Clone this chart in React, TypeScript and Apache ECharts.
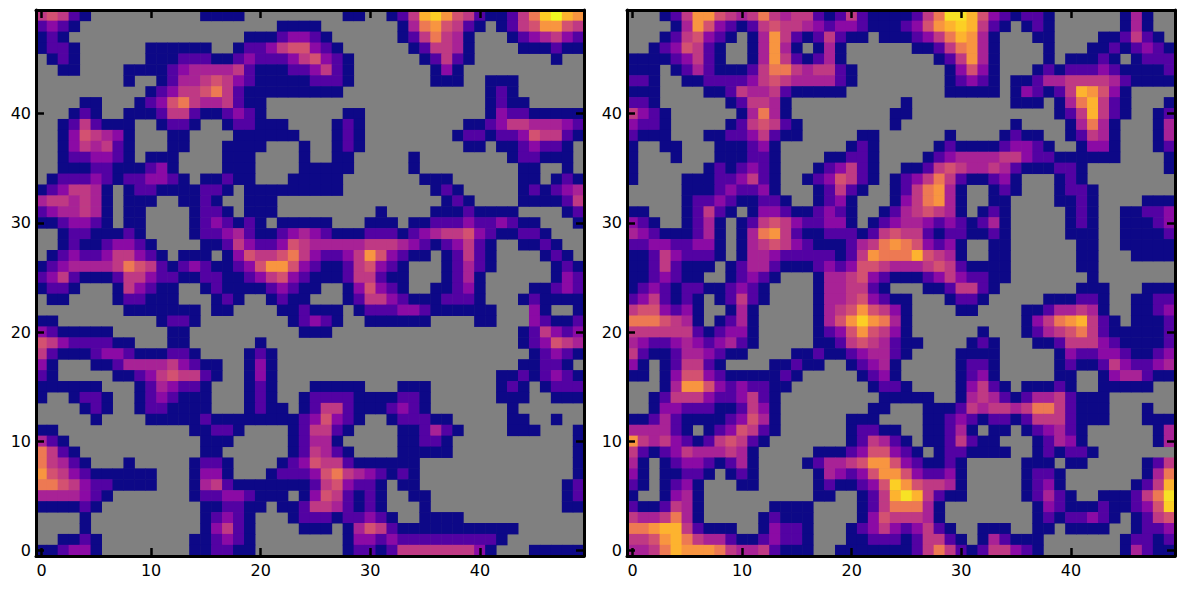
import React, { useEffect, useRef } from "react";
import * as echarts from "echarts";

// Binned colour levels: "." is an empty (grey) cell.
const levelChars = "0123456789ba";
const levelColors = ["#0d0887", "#5302a3", "#8b0aa5", "#a82296", "#bf3984", "#d35171", "#ed7953", "#f89540", "#fdb32f", "#fccf25", "#f7e225", "#f0f921"];
const ticks = Array.from({ length: 50 }, (_, i) => String(i));
const everyTen = (index: number) => index % 10 === 0;

// Rows from y=49 (top) to y=0 (bottom); spaces only separate groups of cells.
const leftRows = [
  "45410 .......... 0000 ...... ... 00 .. 0 1 4 8 9 7 5 4 1 00 1 4 6 9 a 8 7",
  "1210 .................. 000 0 ....... 0 3 6 7 5 4 1 0 . 0 1 4 5 7 7 5 4",
  "010 ................ 000 1 22 1 0 ...... 0 1 4 6 4 3 0 ... 0 1 2 3 4 2 1",
  "0110 ...... 000000 .. 0 11 2 4 55 2 1 0 ...... 0 1 44 3 0 .... 000 1 00",
  ".010 ...... 000 111 00 1 2 111 2 4 5 2 1 0 ...... 0 1 4 1 0 ....... 0 ..",
  "..00 .... 0000 1 2 3333 4 1 000 11 2 4 1 0 ....... 0 2 0 ...........",
  "........ 0 .. 0 1 33 4 5 4 2 1 00000 111 0 ....... 000 .. 000 ......",
  ".......... 0 1 2 44 5 6 4 1 000000 000 ............. 0 1 0 ......",
  ".... 00 ... 0 1 2 5 6 4 33 4 1 00 .... ................ 0 1 00 .....",
  "... 0 1 0 .. 000 1 44 1 00 1 2 1 0 .... ... 00 ........... 0 2 11 00000",
  ".. 0 1 4 1 000 .. 0 11 0 .. 0 11 000 .. .. 0 1 0 ......... 00 1 2 44 333 2 1",
  ".. 0 2 5 4 3 2 0 ... 00 .... 000000 . .. 0 1 0 ........ 0 11 0 11 2 5 44 1 0",
  ".. 0 2 4 3 4 1 0 ... 00 ... 0000 ... 0 .. 0 1 0 ......... 00 . 00 1 2 11 0 .",
  ".. 0 11 22 1 0 . 000 .... 000 .... 0 .. 00 ..... 0 ........ 0 11 000 .",
  ".. 000 11 000 1 2 0 .... 000 .... 0 0000 ..... 0 ......... 00 .. 0 .",
  ". 0 111 2 1 0 11 22 1 0 . 00 1 00 ... 00 000 ....... 000 ...... 00 . 0 1 0",
  "0 1 2 44 3 0 . 0 11 0000 11 0 . 000000 000 ........ 0 1 0 ..... 0 1 0 1 2 3",
  "3 44 3 4 3 0 . 000 .. 00 1 0 .. 000 ... ............ 0 1 0 .... 0000 1 4",
  "1 2 33 4 3 0 . 00 .... 0 11 0 . 000 ... ...... 0 .... 000 1 0000 .... 0 1",
  "00 1 22 1 0 . 00 .... 0 1 2 1 0 1 0 . 000 00 ... 000 . 00 111 2 11 2 1 00 ... 0",
  ".. 0 11 000 1 0 .... 0 11 2 3 1 00 1 2 3 2 1 000 111 0 1 2 3 44 5 2 1 00 11 0 ...",
  ".. 0 1 00 1 22 1 0 .... 00 1 4 2 11 2 5 4 33333 444 3 2 1 0 1 2 4 1 0 .. 00 1 0 ..",
  ". 0 1 2 11 2 44 2 1 0 . 000 . 0 2 5 44 5 6 4 2 11 2 4 7 5 2 1 00 . 0 1 4 1 0 .... 0 1 0 .",
  "0 1 2 3333 4 6 5 4 1 0 1 2 1 00 1 2 5 77 5 2 1 00 1 4 5 2 1 0 ... 0 1 3 1 0 ..... 0 1 0",
  "1 2 4 1 000 1 44 2 11 00 11 00 1 2 4 5 2 1 000 1 44 1 00 ... 0 1 3 0 ...... 0 2 1",
  "0 11 0 ... 0 4 2 1 00 .. 0 1 0000 1 2 1 0 0 .. 0 2 5 2 1 0 .. 00 1 2 0 .... 00 1 2 1",
  ". 00 .... 0 11 000 ... 0 1 0 .. 0 1 00 ... 0 1 44 2 1 000 111 0 ... 0 1 0000",
  "........ 0000000 . 00 .... 00 1 000 . 0 111 22 1 000000 ... 2 0 .. 0",
  "00 ......... 0 11 0 ........ 0 1 2 1 0 .. 000000 .... 00 ... 2 1 00 1",
  "2 1 00000 ..... 00 .......... 0 00 ................. 0 1 4 2 1 2",
  "5 4 2 1111 00 ... 00 ...... 0 .... ................... 0 1 2 5 4 3",
  "4 1 000 1 22 1 000 11 0 .... 0 1 0 ... .................... 0 1 2 1 0",
  "2 0 ... 00 1 3333 4 2 1 00 .. 0 2 0 ... ................... 00 11 0 .",
  "1 0 ..... 00 1 2 4 5 44 1 0 .. 0 2 0 ... ................. 00 1 0 1 2 1 0",
  "000000 ... 0 1 3 2 11 0 ... 0 1 0 ... 00000 ... 000 ...... 0 1 0 . 0 111",
  "0 .. 0 11 0 .. 0 1 2 1 000 ... 0 1 0 .. 0 1111 0000 11 0 ...... 000 .. 000",
  ".... 0 1 0 .. 0 11 0000 ... 0 1 00 . 0 1 44 1 000 1 2 1 0 ....... 0 ......",
  "..... 0 .... 00000 1 00000000 1 2 5 2 1 0 .. 0 111 00 ..... 00 .. 0 ..",
  "00 ............ 00 11 0 .... 0 1 44 1 0 .... 00 1 3 1 0 .... 000 ... 0",
  "3 1 0 ............ 000 ..... 0 1 33 0 ..... 00 11 0 ........... 0",
  "6 4 1 0 ........... 00 ...... 0 1 4 3 1 0 .... 00000 ........... 0",
  "6 4 3 1 0 ... 0 ..... 0 11 0 .... 0 1 2 5 44 1 000000 .............. 0",
  "7 5 4 2 1 000000 ... 0 22 0 ... 0 111 2 5 6 4 3 2 1 0 1 0 .............. 0",
  "66 5 4 2 11 0000 ... 0 3 4 1 0000000 1 4 5 2 11 0 . 00 ............. 0 1",
  "3333 2 1 0 ....... 0 11 22 1 000 . 0 2 5 4 1 0 1 0 .. 00 ............ 0 1",
  "0000 1 0 ......... 00 11 00 . 00 1 44 3 1 0 1 0 ... 0 ............ 00",
  ".... 0 .......... 0 1 2 1 0 ... 0 1 11 0 11 2 1 0 .. 0000 ...........",
  ".... 0 .......... 0 2 4 1 0 .... 0 00 . 0 3 5 4 1 00000000000 ......",
  ".. 00 1 0 ........ 00 1 2 1 0 ..... ... 0 22 1 2 111111111 0 .......",
  "00 1 22 0 ........ 00 11 00 ..... ... 0 11 0 1 4444444 2 0 ... 00000",
];

const rightRows = [
  "... 0 1 4 77 5 4 3 4 6 4 3 44 1 0 1 4 1 000 0 1 4 6 bb 8 5 2 1 0 11 0 ...... 0 3 0 ..",
  ".... 0 3 7 5 2 1 0 1 4 5 44 3 2 1 22 1 000 1 2 5 7 8 9 8 4 1 0 . 0 1 0 ...... 0 3 0 ..",
  "... 0 1 4 5 2 1 0 . 0 3 7 4 1 0 1 4 1 00 . 00 0 1 2 4 6 8 7 3 0 ... 00 .... 00 1 4 1 0 .",
  ".. 0 1 2 5 4 1 0 .. 0 3 7 3 0 . 0 3 0 ..... . 00 1 4 6 7 3 0 .... 0 ... 00 1 0 1 2 1 0",
  "0000 1 2 4 1 0 .. 0 3 7 4 1 0 1 3 0 ..... ... 0 1 4 7 3 0 .... 0 . 000 1 0 . 0 111",
  "000 . 0 1 3 1 000 1 4 66 4 3 44 1 0 .... .... 0 2 5 2 0 ... 0 1 0 111 2 1 0000 1",
  "11 0 .. 00 1111 2 4 5 4 3333 1 0 .... .... 0 1 2 1 0 . 00 1 33 4444 3 1 0000",
  "000 .... 00 1 4 33 4 1 00000 ..... .... 00000 . 0 2 1 0 1 4 8 7 5 2 0 ....",
  "11 0 ...... 0 1 44 3 0 .......... 0 ......... 000 . 0 3 6 8 4 1 0 ... 0",
  "4 2 1 0 ...... 0 3 6 3 0 ......... 00 ............. 0 1 4 8 4 1 0 .. 0 1",
  "2 11 0 ..... 0 1 4 5 4 1 0 ........ 0 .......... 0 .... 0 3 6 3 0 ... 0 3",
  "1 000 ... 00 11 2 4 1 00 ..... 00 .. .... 0 .... 0 1 00 .. 0 1 4 3 0 ... 0 3",
  "0 .. 00 ... 000 1 2 0 ...... 0 1 0 .. ... 0 1 0000 1 22 1 0 .. 0 22 0 ... 0 1",
  "0 ... 0 ... 000 11 0 .... 00 11 0 .. .. 0 1 2 3333 44 2 11 000000 .... 0",
  "0 ...... 0 1 0 1 2 1 0 ... 0 1 2 4 1 0 .. 00 1 4 5 4 33 4 3 1 000 11 0 ....... 0",
  "0 .... 000 11 2 4 1 0 .. 0 1 2 5 4 1 0 . 0 1 2 4 6 4 1 00 1 2 0 ... 0 1 0 ........",
  "..... 000 1 2 11 2 0 ... 0 1 4 1 0 .. 0 1 4 6 7 3 0 .. 0 1 0 ... 0 11 0 .......",
  "..... 0 11 2 1 00 11 0 .. 0 1 2 0 ... 0 2 4 6 7 3 0 .. 00 .... 00 1 0 .... 000",
  "00 ... 0 1 4 1 0 . 0 22 1 00 1 2 1 0 .. 0 1 3 4 5 4 3 0 . 0 1 0 ..... 0 1 0 .. 00 11 2",
  "2 1 0 .. 0 1 3 0 . 0 1 4 5 4 2 11 22 0 . 0 1 2 3 3 2 1 2 1 0 1 3 0 ..... 0 1 0 .. 000 1 2",
  "3 2 1 000 1 3 0 . 0 3 6 7 4 1 00 111 0 1 4 5 4 4 1 0 11 00 1 0 ..... 000 .. 0000 1",
  "11 22 11 22 0 . 0 3 4 5 4 2 1 000 1 3 4 6 7 6 5 2 1 2 0 .. 00 ...... 00 .. 00000",
  "00 1 4 2 111 0 . 0 33 2 11111 0 1 4 7 666 8 5 4 3 0 .. 00 ...... 00 ... 0000",
  "00 1 4 1 000 . 0 1 33 1 000 1 2 1 2 55 4 3 33 4 5 4 1 0000 ...... 00 .......",
  "00 1 2 1 00 .. 0 1 2 1 0 ... 0 33 4 5 2 1 0 00 1 2 4 2 11 00 ....... 0 .......",
  "0 1 2 1 0 11 00 1 2 1 0 .... 0 33 44 1 0 . .. 00 1 44 1 0 ....... 000 ... 000",
  "1 2 4 1 0 1 0 . 0 1 4 1 0 .... 0 33 4 5 2 1 0 0 ... 0 11 0 ..... 000 11 0 .. 00 11",
  "4 55 2 1 2 0 .. 0 3 0 ..... 0 3 4 5 7 5 4 2 0 .... 00 .... 00 1 33 4 3 0 .. 00 1 2",
  "666 5 4 3 0 . 0 1 3 0 ..... 0 3 5 7 9 7 6 3 0 .......... 0 2 4 6 7 8 4 1 0 . 000 1",
  "444444 1 0 1 22 0 ..... 0 1 2 5 7 5 4 2 0 ...... 0 ... 0 1 3 4 5 6 4 1 00000 1",
  "3 2 11 2 3 2 1 2 3 1 0 ..... 00 1 4 5 4 3 1 00 .... 0 1 0 ... 00 1 444 2 1 0000 1",
  "4 1 00 1 33 2 1 00 .... 00 1 00 1 2 33 1 0 .... 0000 ..... 0 2 11 22 1 00 1 2",
  "2 0 . 0 1 44 1 0 .... 00 1 00 .. 0 1 2 3 0 ..... 0 11 0 ..... 0 1 00 1 4 2 11 2 3",
  "00 . 0 2 55 2 1 00000 1 0 ..... 0 1 2 0 ..... 0 1 2 0 ..... 00 .. 0 2 33 1 00",
  "... 0 3 77 5 2 1 2 11 00 ....... 0 11 0 .... 0 2 4 1 0 . 000 1 0 .. 00000 ..",
  ".. 0 1 444 2 11 2 4 1 0 ......... 00 000 .. 0 3 4 3 1 0 1 33 4 1 000 ......",
  ".. 0 22 111 00 1 4 2 0 ........ 00 . .. 000 1 4 3 44 3 4 66 4 1 000 ... 0 ..",
  "00 1 3 1 0000 1 2 5 3 0 ...... 000 . . .. 00 1 2 1 0 11 0 1 444 1 000 ... 000",
  "3333 1 0 . 0 1 2 5 4 1 0 ...... 0 11 00 .. 00 1 3 0 . 00 . 0 1 2 3 1 0 ...... 0 3",
  "7 4 3 4 2 1 0 1 4 5 4 1 0 ....... 0 1 4 3 1 0 . 00 1 4 1 00 ... 0 1 3 2 0 ...... 0 3",
  "4 1 0 1 2 4 333 4 3 0 ..... 000 1 2 55 2 1 0 . 0 11 0000 .. 0 1 0 11 0 .......",
  "3 0 . 0 1 22 1 0 1 3 0 .... 0 1 33 4 5 77 5 2 1 00 1 0 ..... 000 . 00 ..... 0 1 4",
  "2 0 . 00 11 0 . 0 1 0 ..... 0 3 2 1 2 5 77 5 2 11 2 0 ..... 0 11 0 ....... 0 3 6",
  "1 0 . 0 1 2 0 ... 00 ..... 0 1 00 1 2 5 9 7 5 44 3 0 ..... 0 1 2 0 ...... 0 1 4 8",
  "0 .. 0 2 3 0 .......... 00 .. 0 1 4 8 b 8 4 1 00 ..... 0 1 3 1 0 .. 000 1 4 6 b",
  "1 00 1 4 3 0 ...... 0000 .... 0 1 4 666 3 0 ........ 0 2 1 000 1 00 1 2 5 9",
  "4 33 4 6 3 0 ..... 0 1 000 .... 0 2 5 4 44 3 0 ........ 0 1 0 11 2 1 0 . 0 1 4 5",
  "66 7 88 4 1 000 .. 0 2 11 0 ... 0 1 2 4 2 1 2 4 1 0 .. 000 .. 00 . 0000 .. 0 11 2",
  "44 5 7 8 6 4 33 1 00 1 2 11 0 ... 00 111 0 1 44 1 0 . 0 3 1 000 ....... 0 11 0 1",
  "33 4 6 8 777 6 4 33 4 1 000 .. 000000 0 1 4 6 4 1 0 1 44 2 1 0 ....... 0 3 1 00",
];

const toCells = (rows: string[]) => {
  const cells: number[][] = [];
  rows.forEach((row, r) => {
    const text = row.replace(/ /g, "").padEnd(50, ".").slice(0, 50);
    for (let c = 0; c < 50; c++) {
      const level = levelChars.indexOf(text[c]);
      if (level >= 0) cells.push([c, 49 - r, level]);
    }
  });
  return cells;
};

const tickStyle = { show: true, inside: true, length: 8, alignWithLabel: true, interval: everyTen, lineStyle: { color: "#000", width: 2.5 } };
const lineStyle = { show: true, onZero: false, lineStyle: { color: "#000", width: 3 } };
const labelStyle = { color: "#000", fontFamily: "DejaVu Sans", fontSize: 16, interval: everyTen };

const axis = (kind: "x" | "y", gridIndex: number, position: string, labelled: boolean) => ({
  type: "category",
  gridIndex,
  position,
  data: ticks,
  z: 50,
  axisLine: lineStyle,
  axisTick: tickStyle,
  splitLine: { show: false },
  axisLabel: labelled ? { ...labelStyle, margin: kind === "x" ? 6 : 5 } : { show: false },
});

export default function App() {
  const ref = useRef<HTMLDivElement>(null);
  useEffect(() => {
    const chart = echarts.init(ref.current!, undefined, { renderer: "svg" });
    const panelGrid = (left: number) => ({
      show: true, left, top: 10, width: 548, height: 546,
      backgroundColor: "#808080", borderWidth: 0,
    });
    chart.setOption({
      animation: false,
      backgroundColor: "#fff",
      grid: [panelGrid(36), panelGrid(627)],
      xAxis: [axis("x", 0, "bottom", true), axis("x", 0, "top", false), axis("x", 1, "bottom", true), axis("x", 1, "top", false)],
      yAxis: [axis("y", 0, "left", true), axis("y", 0, "right", false), axis("y", 1, "left", true), axis("y", 1, "right", false)],
      visualMap: { show: false, type: "continuous", seriesIndex: [0, 1], min: 0, max: levelColors.length - 1, dimension: 2, inRange: { color: levelColors } },
      series: [
        { type: "heatmap", xAxisIndex: 0, yAxisIndex: 0, data: toCells(leftRows), progressive: 0, z: 0, emphasis: { disabled: true } },
        { type: "heatmap", xAxisIndex: 2, yAxisIndex: 2, data: toCells(rightRows), progressive: 0, z: 0, emphasis: { disabled: true } },
      ],
    });
    return () => chart.dispose();
  }, []);
  return <div ref={ref} style={{ position: "absolute", left: 0, top: 0, width: 1183, height: 589 }} />;
}
